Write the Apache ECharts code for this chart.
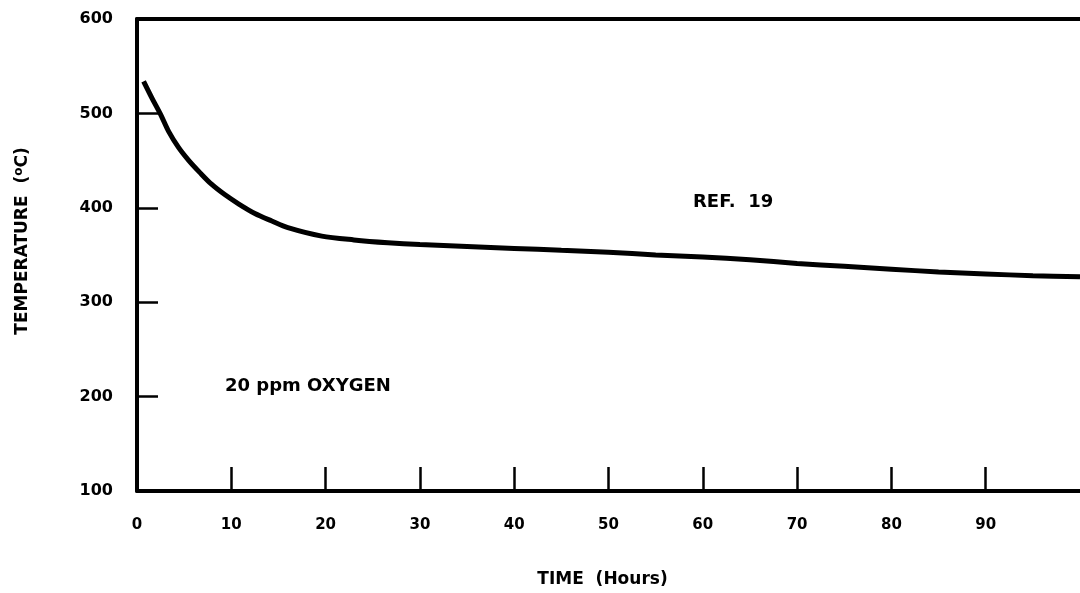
<!DOCTYPE html>
<html>
<head>
<meta charset="utf-8">
<script src="https://cdn.jsdelivr.net/npm/echarts@6/dist/echarts.min.js"></script>
<style>
html,body{margin:0;padding:0;background:#fff;}
#chart{width:1080px;height:593px;}
</style>
</head>
<body>
<div id="chart"></div>
<script>
// Data
const timeHours = [0.7, 1.6, 2.5, 3.35, 4.4, 5.5, 6.7, 7.9, 9.3, 10.8, 12.5, 14.3, 16, 19.6, 23, 26.6, 30, 35, 40, 45, 50, 55, 60, 65, 70, 75, 80, 85, 90, 95, 100];
const temperatureC = [534, 516, 499, 481, 464, 450, 437, 425, 414, 404, 394, 386, 379, 370, 366, 363, 361, 359, 357, 355, 353, 350, 348, 345, 341, 338, 335, 332, 330, 328, 327];
const xTicks = [0, 10, 20, 30, 40, 50, 60, 70, 80, 90];
const yTicks = [100, 200, 300, 400, 500, 600];
const xTitle = 'TIME  (Hours)';
const yTitle = 'TEMPERATURE  (';
const noteOxygen = '20 ppm OXYGEN';
const noteRef = 'REF.  19';

const FONT = 'DejaVu Sans';
const chart = echarts.init(document.getElementById('chart'), null, {renderer: 'canvas'});
const curve = timeHours.map((t, i) => [t, temperatureC[i]]);

chart.setOption({
  backgroundColor: '#ffffff',
  animation: false,
  grid: {left: 137, right: -2, top: 19, bottom: 100, containLabel: false},
  xAxis: [{
    type: 'value', min: 0, max: 100, interval: 10,
    name: xTitle, nameLocation: 'middle', nameGap: 80,
    nameTextStyle: {fontFamily: FONT, fontWeight: 'bold', fontSize: 17, color: '#000', padding: [0, 12, 0, 0]},
    axisLine: {show: true, onZero: false, lineStyle: {color: '#000', width: 4}},
    axisTick: {show: true, inside: true, length: 24, lineStyle: {color: '#000', width: 2.5}},
    axisLabel: {
      show: true, margin: 27, showMaxLabel: false,
      fontFamily: FONT, fontWeight: 'bold', fontSize: 15, color: '#000',
      formatter: v => (xTicks.indexOf(v) >= 0 ? String(v) : '')
    },
    splitLine: {show: false}
  }, {
    type: 'value', position: 'top', min: 0, max: 100,
    axisLine: {show: true, lineStyle: {color: '#000', width: 4}},
    axisTick: {show: false}, axisLabel: {show: false}, splitLine: {show: false}
  }],
  yAxis: {
    type: 'value', min: 100, max: 600, interval: 100,
    name: '{t|' + yTitle + '}{s|o}{t|C)}', nameLocation: 'middle', nameGap: 104, nameRotate: 90,
    nameTextStyle: {
      fontFamily: FONT, fontWeight: 'bold', fontSize: 17, color: '#000', padding: [0, 0, 0, 28],
      rich: {
        t: {fontFamily: FONT, fontWeight: 'bold', fontSize: 17, color: '#000'},
        s: {fontFamily: FONT, fontWeight: 'bold', fontSize: 12, color: '#000', verticalAlign: 'top', padding: [0, 0, 8, 0]}
      }
    },
    axisLine: {show: true, onZero: false, lineStyle: {color: '#000', width: 4}},
    axisTick: {show: true, inside: true, length: 21, lineStyle: {color: '#000', width: 2.5}},
    axisLabel: {
      show: true, margin: 24,
      fontFamily: FONT, fontWeight: 'bold', fontSize: 16, color: '#000',
      formatter: v => (yTicks.indexOf(v) >= 0 ? String(v) : '')
    },
    splitLine: {show: false}
  },
  series: [{
    type: 'line',
    data: curve,
    smooth: 0.3,
    showSymbol: false,
    symbol: 'none',
    lineStyle: {color: '#000', width: 5},
    clip: true
  }],
  graphic: [
    {type: 'text', left: 225, top: 377,
     style: {text: noteOxygen, fontFamily: FONT, fontWeight: 'bold', fontSize: 18, fill: '#000'}},
    {type: 'text', left: 693, top: 193,
     style: {text: noteRef, fontFamily: FONT, fontWeight: 'bold', fontSize: 18, fill: '#000'}}
  ]
});
</script>
</body>
</html>
